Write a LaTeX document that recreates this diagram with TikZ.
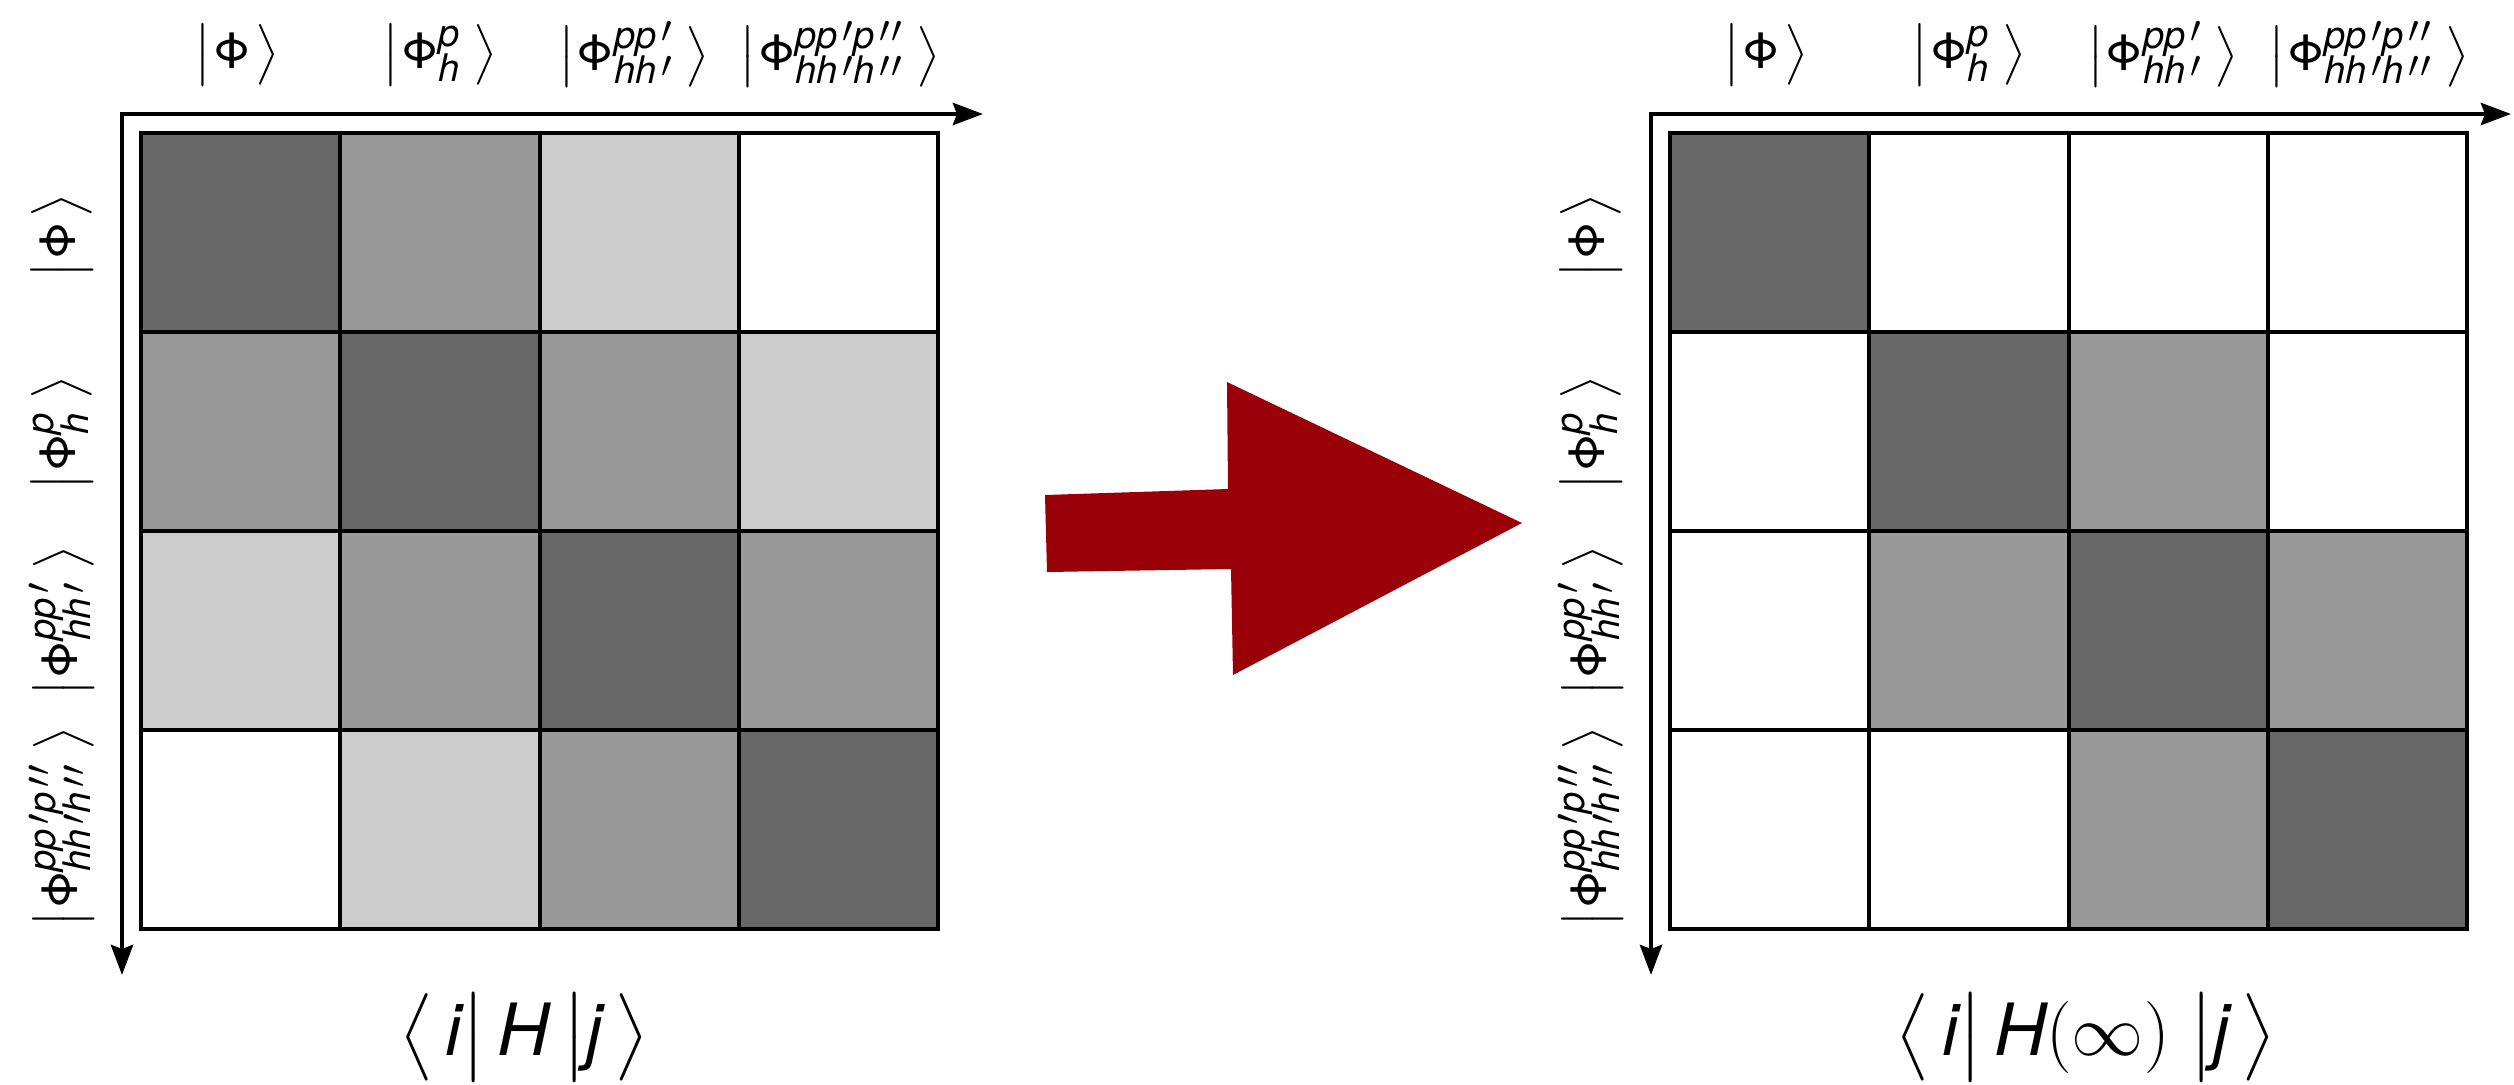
\RequirePackage{fix-cm}
\documentclass[tikz,border=0pt]{standalone}
\usepackage{exscale}
\usepackage{amsmath}
\usepackage[no-math]{fontspec}
\setmainfont{TeX Gyre Heros}
\usetikzlibrary{arrows.meta}
\definecolor{cD}{HTML}{686868}
\definecolor{cM}{HTML}{999999}
\definecolor{cL}{HTML}{CCCCCC}
\definecolor{bigred}{RGB}{153,0,8}
\nulldelimiterspace=0pt
% sized math delimiter
\newcommand\szd[2]{\mathord{\left#1\vcenter to #2{}\right.}}
\newcommand\dlm[1]{{\fontsize{15.8}{18}\selectfont$\left#1\vcenter to 18pt{}\right.$}}
% stacked super/subscripts
\newcommand\scr[2]{%
  \sbox0{\fontsize{10.8}{12}\selectfont\itshape #1}%
  \sbox2{\fontsize{10.8}{12}\selectfont\itshape #2}%
  \rlap{\raisebox{6.3pt}{\usebox0}}\rlap{\raisebox{-3.7pt}{\usebox2}}%
  \hskip\ifdim\wd0>\wd2 \wd0\else\wd2\fi\relax
  \hskip2.5pt\relax}
\newcommand\kt[1]{\dlm{|}\hspace{0.5pt}Φ#1\hspace{1.5pt}\dlm{\rangle}}
\newcommand\pq{\hspace{1.4pt}\raisebox{1.6pt}{$\prime$}}
\newcommand\pqq{\hspace{1.4pt}\raisebox{1.6pt}{$\prime\mkern1mu\prime$}}
\newcommand\kit[1]{\text{\itshape #1}}
\begin{document}
\begin{tikzpicture}[x=0.01cm,y=-0.01cm,
  cell/.style={draw=black,line width=1.1pt,minimum size=1.99cm,inner sep=0pt,outer sep=0pt},
  axisline/.style={line width=1.3pt,{Stealth[length=0.3cm,width=0.22cm,inset=0.04cm]}-{Stealth[length=0.3cm,width=0.22cm,inset=0.04cm]}},
  lab/.style={inner sep=0pt,font=\fontsize{13.9}{16}\selectfont},
  big/.style={inner sep=0pt,font=\fontsize{20.5}{24}\selectfont}]
\useasboundingbox (0,0) rectangle (2514,1084);
% left matrix
\foreach \r/\cols in {1/{cD,cM,cL,white},2/{cM,cD,cM,cL},3/{cL,cM,cD,cM},4/{white,cL,cM,cD}}{
  \foreach \c [count=\k] in \cols {
    \node[cell,fill=\c] (L\r\k) at ({141+199.25*(\k-0.5)},{133+199*(\r-0.5)}) {};
  }
}
% right matrix
\foreach \r/\cols in {1/{cD,white,white,white},2/{white,cD,cM,white},3/{white,cM,cD,cM},4/{white,white,cM,cD}}{
  \foreach \c [count=\k] in \cols {
    \node[cell,fill=\c] (R\r\k) at ({1670+199.25*(\k-0.5)},{133+199*(\r-0.5)}) {};
  }
}
% axes
\coordinate (Lo) at (122,114); \coordinate (Lx) at (983,114); \coordinate (Ly) at (122,975);
\coordinate (Ro) at (1651,114); \coordinate (Rx) at (2511,114); \coordinate (Ry) at (1651,975);
\draw[axisline] (Ly) -- (Lo) -- (Lx);
\draw[axisline] (Ry) -- (Ro) -- (Rx);
% column labels
\foreach \m/\xo in {L/0,R/1529}{
  \node[lab] (\m c1) at (\xo+237,55) {\kt{}};
  \node[lab] (\m c2) at (\xo+440,55) {\kt{\scr{p}{h}}};
  \node[lab] (\m c3) at (\xo+634,55) {\kt{\scr{pp\pq}{hh\pq}}};
  \node[lab] (\m c4) at (\xo+840,55) {\kt{\scr{pp\pq p\pqq}{hh\pq h\pqq}}};
}
% row labels
\foreach \m/\xo in {L/62,R/1591}{
  \node[lab,rotate=90] (\m r1) at (\xo,236) {\kt{}};
  \node[lab,rotate=90] (\m r2) at (\xo,433) {\kt{\scr{p}{h}}};
  \node[lab,rotate=90] (\m r3) at (\xo,621) {\kt{\scr{pp\pq}{hh\pq}}};
  \node[lab,rotate=90] (\m r4) at (\xo,827) {\kt{\scr{pp\pq p\pqq}{hh\pq h\pqq}}};
}
% big arrow
\fill[bigred] (1045,495) -- (1228,489) -- (1227,382) -- (1522,523) -- (1233,675) -- (1231,569) -- (1047,572) -- cycle;
% matrix element labels
\node[big] (LH) at (524,1037) {$\szd\langle{25pt}\,\kit{i}\szd|{25pt}\,\kit{H}\,\szd|{25pt}\kit{j}\,\szd\rangle{25pt}$};
\node[big] (RH) at (2086,1037) {$\szd\langle{25pt}\,\kit{i}\szd|{25pt}\,\kit{H}(\infty)\;\szd|{25pt}\kit{j}\,\szd\rangle{25pt}$};
\end{tikzpicture}
\end{document}
